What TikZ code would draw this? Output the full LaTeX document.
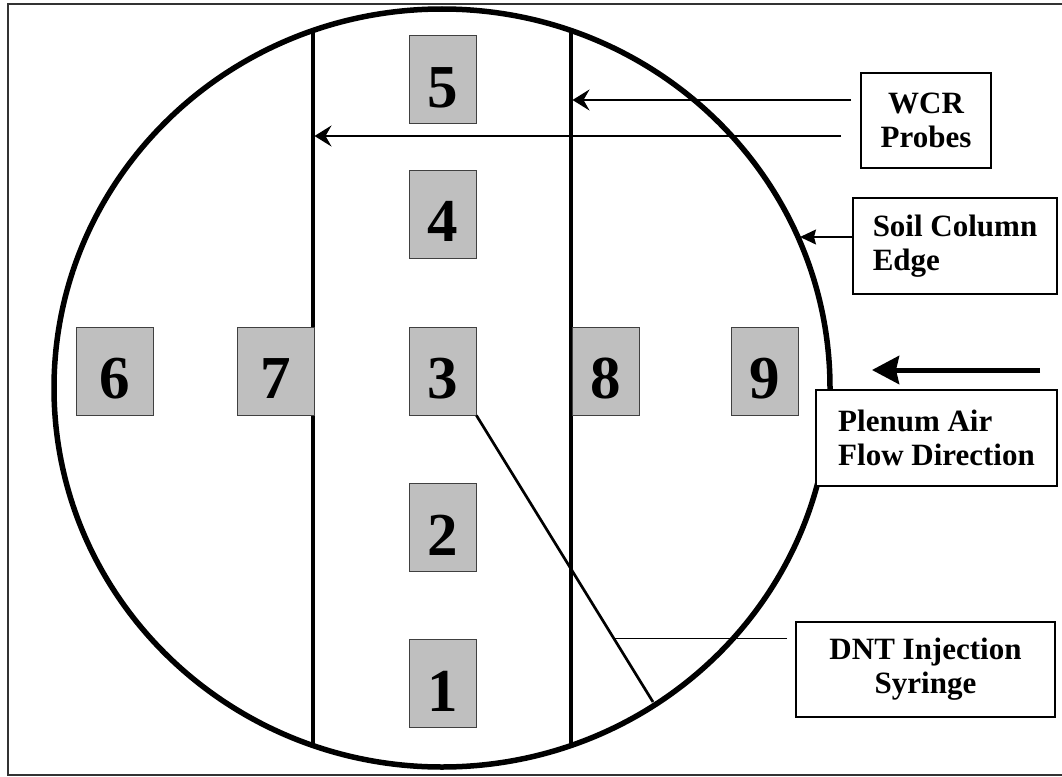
\documentclass[tikz,border=0pt]{standalone}
\usepackage{fontspec}
\setmainfont{Liberation Serif}
\usetikzlibrary{arrows.meta}
\begin{document}
\begin{tikzpicture}[x=1pt,y=-1pt,
  cell/.style={draw=black!75, line width=0.8pt, fill=black!25,
    minimum width=67pt, minimum height=88pt, inner sep=0pt,
    text height=55pt, text depth=0pt,
    font=\fontsize{61}{61}\selectfont\bfseries},
  widecell/.style={cell, minimum width=77pt},
  tag/.style={draw=black, line width=1.2pt, fill=white, inner sep=0pt,
    font=\fontsize{31}{34}\selectfont\bfseries},
  probe/.style={line width=3.2pt},
  pointer/.style={line width=1.6pt, -{Stealth[length=17pt,width=21pt,inset=6pt]}},
  edgeptr/.style={line width=1.3pt, -{Stealth[length=16pt,width=15pt,inset=2pt]}},
  flow/.style={line width=5pt, -{Stealth[length=27pt,width=28pt,inset=3pt]}},
]
\useasboundingbox (0,0) rectangle (1062,776);

% outer frame (open on the right)
\draw[line width=1.5pt, black!80] (1062,4) -- (8,4) -- (8,775) -- (1062,775);

% soil column outline
\draw[line width=5.5pt] (442,388) ellipse [x radius=388pt, y radius=379pt];

% WCR probe lines
\coordinate (lt) at (313,31);
\coordinate (lb) at (313,745);
\coordinate (rt) at (571,31);
\coordinate (rb) at (571,745);
\draw[probe] (lt) -- (lb);
\draw[probe] (rt) -- (rb);

% sampling cells
\node[cell] (c5) at (442.5,79.5) {5};
\node[cell] (c4) at (442.5,214) {4};
\node[cell] (c3) at (442.5,371) {3};
\node[cell] (c2) at (442.5,527.5) {2};
\node[cell] (c1) at (442.5,683.5) {1};
\node[widecell] (c6) at (114.5,371) {6};
\node[widecell] (c7) at (276,371) {7};
\node[cell] (c8) at (605.5,371) {8};
\node[cell] (c9) at (765,371) {9};

% injection syringe
\coordinate (needle) at (653,702);
\draw[line width=2.7pt] (c3.south east) -- (needle);

% labels
\node[tag, minimum width=130pt, minimum height=95pt, align=center]
  (wcr) at (926,120.5) {WCR\\Probes};
\node[tag, minimum width=204pt, minimum height=96pt, align=left]
  (soil) at (955,246) {Soil Column\\Edge};
\node[tag, minimum width=241pt, minimum height=96pt, align=left]
  (plenum) at (936.5,438) {Plenum Air\\Flow Direction};
\node[tag, minimum width=259pt, minimum height=95pt, align=center]
  (dnt) at (925.5,669.5) {DNT Injection\\Syringe};

% probe pointers
\coordinate (wa) at (851,100);
\coordinate (wat) at (572.5,100);
\coordinate (wb) at (841,136);
\coordinate (wbt) at (314.5,136);
\draw[pointer] (wa) -- (wat);
\draw[pointer] (wb) -- (wbt);

% soil edge pointer
\coordinate (edgept) at (800,237);
\draw[edgeptr] ([yshift=9pt]soil.west) -- (edgept);

% air flow direction
\coordinate (flowa) at (1040,370);
\coordinate (flowb) at (872,370);
\draw[flow] (flowa) -- (flowb);

% syringe leader
\coordinate (dnta) at (787,638);
\coordinate (dntb) at (615,638);
\draw[line width=1pt] (dnta) -- (dntb);
\end{tikzpicture}
\end{document}
